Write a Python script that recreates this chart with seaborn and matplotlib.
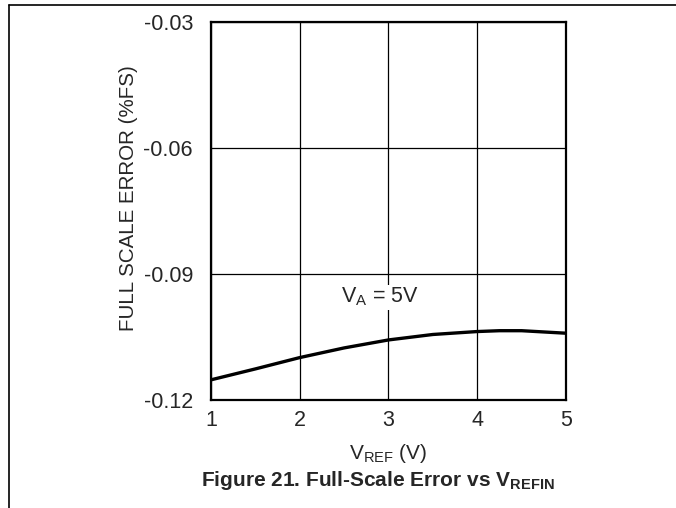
import numpy as np
import pandas as pd
import seaborn as sns
import matplotlib
matplotlib.use("Agg")
import matplotlib.pyplot as plt
from matplotlib.lines import Line2D

# values
vref = [1.0, 1.5, 2.0, 2.5, 3.0, 3.5, 4.0, 4.25, 4.5, 5.0]
fs_error = [-0.1152, -0.1126, -0.1099, -0.1076, -0.1057, -0.1044, -0.1037, -0.1035, -0.1035, -0.1041]
x_ticks = [1, 2, 3, 4, 5]
y_ticks = [-0.12, -0.09, -0.06, -0.03]
y_labels = ["-0.12", "-0.09", "-0.06", "-0.03"]

df = pd.DataFrame({"vref": vref, "err": fs_error})

sns.set_style("white")
plt.rcParams['font.family'] = ['Liberation Sans', 'DejaVu Sans']
plt.rcParams['mathtext.fontset'] = 'custom'
plt.rcParams['mathtext.rm'] = 'Liberation Sans'
plt.rcParams['mathtext.bf'] = 'Liberation Sans:bold'

fig = plt.figure(figsize=(6.76, 5.08), dpi=100)
ax = fig.add_axes([0.3121, 0.2126, 0.5252, 0.7441])

sns.lineplot(data=df, x="vref", y="err", ax=ax, color="black", linewidth=2.4)

ax.set_xlim(1, 5)
ax.set_ylim(-0.12, -0.03)
ax.set_xticks(x_ticks)
ax.set_yticks(y_ticks)
ax.set_yticklabels(y_labels)
ax.tick_params(axis="y", length=0, labelsize=15.5, pad=13)
ax.tick_params(axis="x", length=0, labelsize=15.5, pad=7)
ax.grid(True, color="black", linewidth=0.9)
for s in ax.spines.values():
    s.set_visible(True)
    s.set_color("black")
    s.set_linewidth(1.6)

ax.set_xlabel(r"$\mathregular{V_{REF}}$ (V)", fontsize=15, labelpad=8)
ax.set_ylabel("FULL SCALE ERROR (%FS)", fontsize=14.8)
ax.yaxis.set_label_coords(-0.205, 0.535)

ax.text(2.9, -0.0955, r"$\mathregular{V_A}$ = 5V", fontsize=15.5, ha="center", va="center",
        bbox=dict(facecolor="white", edgecolor="none", pad=1))

fig.text(0.559, 0.055, r"Figure 21. Full-Scale Error vs $\mathbf{V_{REFIN}}$",
         fontsize=15, fontweight="bold", ha="center", va="center")

# outer frame of the datasheet page
fig.add_artist(Line2D([0.0133, 0.0133], [0, 0.990], color="black", linewidth=1.2))
fig.add_artist(Line2D([0.0133, 1.0], [0.990, 0.990], color="black", linewidth=1.2))

fig.savefig("out.png", dpi=100)
